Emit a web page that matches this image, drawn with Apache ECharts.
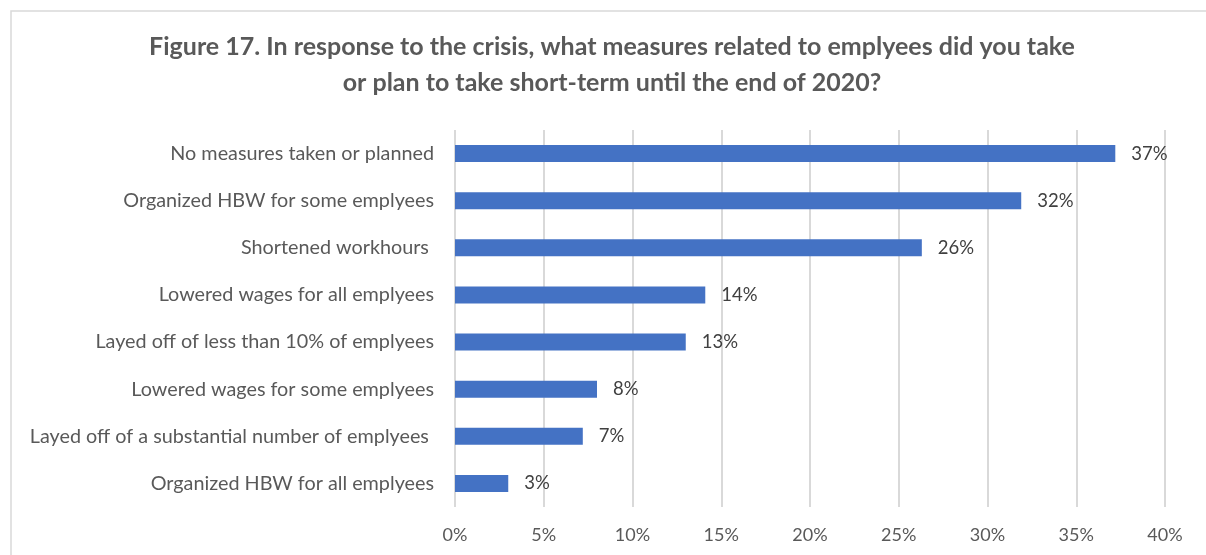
<!DOCTYPE html>
<html>
<head>
<meta charset="utf-8">
<script src="https://cdn.jsdelivr.net/npm/echarts@6/dist/echarts.min.js"></script>
<style>
  html, body { margin: 0; padding: 0; background: #ffffff; }
  #chart { width: 1206px; height: 555px; }
</style>
</head>
<body>
<div id="chart"></div>
<script>
// Survey responses, top to bottom as listed
const categories = [
  'No measures taken or planned',
  'Organized HBW for some emplyees',
  'Shortened workhours ',
  'Lowered wages for all emplyees',
  'Layed off of less than 10% of emplyees',
  'Lowered wages for some emplyees',
  'Layed off of a substantial number of emplyees ',
  'Organized HBW for all emplyees'
];
// Share of respondents, percent
const shares = [37.2, 31.9, 26.3, 14.1, 13.0, 8.0, 7.2, 3.0];
const titleLines = [
  'Figure 17. In response to the crisis, what measures related to emplyees did you take',
  'or plan to take short-term until the end of 2020?'
];

const chart = echarts.init(document.getElementById('chart'), null, { renderer: 'canvas' });

chart.setOption({
  backgroundColor: '#ffffff',
  animation: false,
  graphic: [{
    // outer frame
    type: 'rect',
    silent: true,
    shape: { x: 11, y: 11, width: 1400, height: 800 },
    style: { fill: 'none', stroke: '#d9d9d9', lineWidth: 1.5 }
  }, {
    // two-line heading, centred over the chart area
    type: 'text',
    silent: true,
    x: 612,
    y: 29,
    style: {
      text: titleLines.join('\n'),
      align: 'center',
      verticalAlign: 'top',
      fontFamily: 'Lato',
      fontWeight: 'bold',
      fontSize: 25,
      lineHeight: 36,
      fill: '#595959'
    }
  }],
  grid: { left: 455, right: 41, top: 130, bottom: 48, containLabel: false },
  xAxis: {
    type: 'value',
    min: 0,
    max: 40,
    interval: 5,
    axisLine: { show: false },
    axisTick: { show: false },
    axisLabel: {
      formatter: v => v + '%',
      fontFamily: 'Lato',
      fontSize: 18,
      color: '#595959',
      margin: 19
    },
    splitLine: { lineStyle: { color: '#d9d9d9', width: 2 } }
  },
  yAxis: {
    type: 'category',
    inverse: true,
    data: categories,
    axisLine: { show: false },
    axisTick: { show: false },
    axisLabel: {
      fontFamily: 'Lato',
      fontSize: 19.8,
      color: '#595959',
      margin: 21
    }
  },
  series: [{
    type: 'bar',
    data: shares,
    barWidth: 17,
    itemStyle: { color: '#4472c4' },
    label: {
      show: true,
      position: 'right',
      distance: 16,
      formatter: p => Math.round(p.value) + '%',
      fontFamily: 'Lato',
      fontSize: 18.5,
      color: '#404040'
    }
  }]
});
</script>
</body>
</html>
